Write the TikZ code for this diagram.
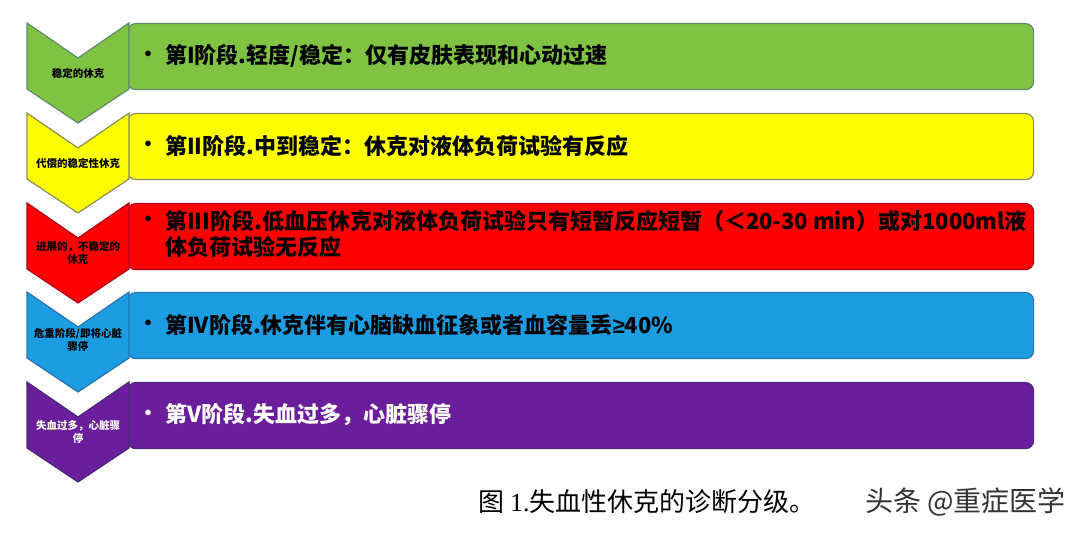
\documentclass[tikz,border=0pt]{standalone}
\usepackage{fontspec}
\newfontfamily\cjk{Noto Sans CJK SC}
\newfontfamily\serifl{Liberation Serif}
\newfontfamily\symf{Liberation Sans}
\definecolor{gfill}{HTML}{80C342}
\definecolor{gline}{HTML}{5F8A6B}
\definecolor{yfill}{HTML}{FFFF00}
\definecolor{yline}{HTML}{8C8C5A}
\definecolor{rfill}{HTML}{FF0000}
\definecolor{rline}{HTML}{B0001A}
\definecolor{bfill}{HTML}{1C9DE2}
\definecolor{bline}{HTML}{2A74B0}
\definecolor{pfill}{HTML}{6A1E9C}
\definecolor{pline}{HTML}{4A2A7A}
\definecolor{wm}{HTML}{333333}
\tikzset{
  barbox/.style={draw, rounded corners=8pt, line width=1.2pt, minimum width=906pt, minimum height=66pt, anchor=north west, inner sep=0pt},
  chev/.style={line width=1.2pt, line join=miter},
  bartext/.style={anchor=west, font=\cjk\bfseries\fontsize{22}{26}\selectfont, align=left, inner sep=0pt},
  bul/.style={anchor=center, font=\cjk\bfseries\fontsize{20}{26}\selectfont, inner sep=0pt},
  chevtext/.style={font=\cjk\bfseries\fontsize{10.5}{13}\selectfont, align=center, inner sep=0pt},
}
\begin{document}
\begin{tikzpicture}[x=1pt,y=-1pt]
\useasboundingbox (0,0) rectangle (1080,534);
\fill[white] (0,0) rectangle (1080,534);
% bars
\foreach \t/\f/\l/\n in {23/gfill/gline/1,113/yfill/yline/2,203/rfill/rline/3,292/bfill/bline/4,382/pfill/pline/5}{
  \node[barbox, fill=\f, draw=\l] (bar\n) at (127,\t) {};
  \draw[chev, fill=\f, draw=\l] (27,\t) -- (78,\t+35) -- (129,\t) -- (129,\t+66) -- (78,\t+100) -- (27,\t+66) -- cycle;
}
% chevron labels
\node[chevtext] (c1) at (78,73) {稳定的休克};
\node[chevtext] (c2) at (78,163) {代偿的稳定性休克};
\node[chevtext] (c3) at (78,253) {进展的，不稳定的\\休克};
\node[chevtext] (c4) at (78,340) {危重阶段/即将心脏\\骤停};
\node[chevtext, text=white] (c5) at (78,432) {失血过多，心脏骤\\停};
% bullets
\node[bul] (b1) at (148,56) {•};
\node[bul] (b2) at (148,146) {•};
\node[bul] (b3) at (148,221) {•};
\node[bul] (b4) at (148,325) {•};
\node[bul, text=white] (b5) at (148,415) {•};
% bar texts
\node[bartext] (t1) at (165,56) {第I阶段.轻度/稳定：仅有皮肤表现和心动过速};
\node[bartext] (t2) at (165,146) {第II阶段.中到稳定：休克对液体负荷试验有反应};
\node[bartext] (t3) at (165,234) {第III阶段.低血压休克对液体负荷试验只有短暂反应短暂（＜20-30 min）或对1000ml液\\体负荷试验无反应};
\node[bartext] (t4) at (165,325) {第IV阶段.休克伴有心脑缺血征象或者血容量丢{\symf ≥}40\%};
\node[bartext, text=white] (t5) at (165,415) {第V阶段.失血过多，心脏骤停};
% caption
\node[anchor=west, inner sep=0pt, font=\fontsize{26}{30}\selectfont] (cap) at (478,502) {\cjk 图 \serifl 1.\cjk 失血性休克的诊断分级。};
\node[anchor=west, inner sep=0pt, text=wm, font=\cjk\fontsize{28}{30}\selectfont] (wmk) at (865,502) {头条 @重症医学};
\end{tikzpicture}
\end{document}
